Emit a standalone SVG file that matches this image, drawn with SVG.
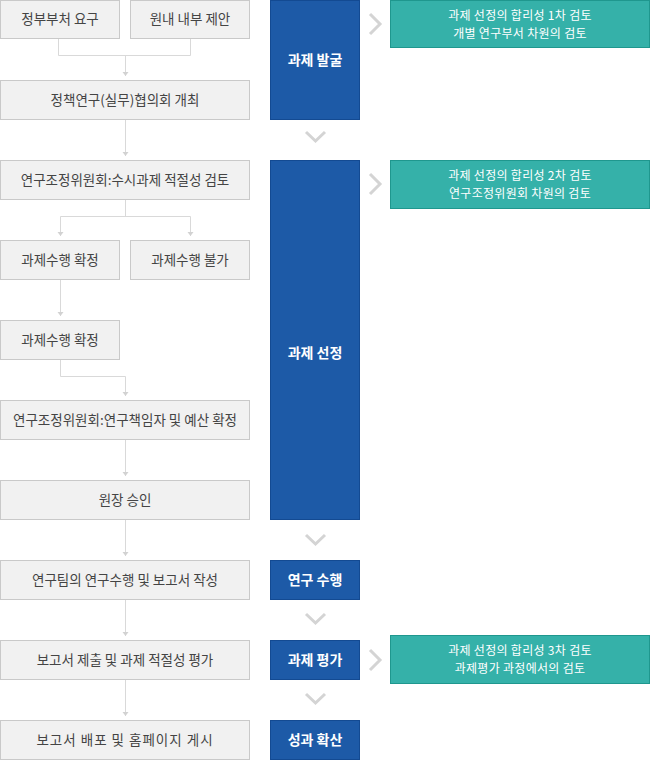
<svg xmlns="http://www.w3.org/2000/svg" width="650" height="760" viewBox="0 0 650 760">
<defs>
<style>
.g rect{fill:#f1f1f1;stroke:#c9c9c9;stroke-width:1}
.g text{font-family:"Noto Sans CJK KR","Noto Sans",sans-serif;font-size:13.5px;fill:#444;text-anchor:middle}
.b rect{fill:#1d5aa7;stroke:#134a92;stroke-width:1}
.b text{font-family:"Noto Sans CJK KR","Noto Sans",sans-serif;font-size:14px;font-weight:bold;fill:#fff;text-anchor:middle}
.t rect{fill:#35b1a9;stroke:#1f978e;stroke-width:1}
.t text{font-family:"Noto Sans CJK KR","Noto Sans",sans-serif;font-size:12px;letter-spacing:0.3px;fill:#fff;text-anchor:middle}
.c{fill:none;stroke:#d9d9d9;stroke-width:1}
.a{fill:#d2d2d2}
.chev{fill:none;stroke:#d4d4d4;stroke-width:3}
</style>
</defs>
<rect width="650" height="760" fill="#fff"/>

<g id="connectors">
<path class="c" d="M58.5,39 V55.5 H190.5 V39"/>
<path class="c" d="M125.5,55.5 V76"/>
<path class="a" d="M122.5,72 L128.5,72 L125.5,76 Z"/>
<path class="c" d="M125.5,120 V156"/>
<path class="a" d="M122.5,152 L128.5,152 L125.5,156 Z"/>
<path class="c" d="M125.5,200 V216.5 M60.5,236 V216.5 H190.5 V236"/>
<path class="a" d="M57.5,232 L63.5,232 L60.5,236 Z"/>
<path class="a" d="M187.5,232 L193.5,232 L190.5,236 Z"/>
<path class="c" d="M60.5,280 V316"/>
<path class="a" d="M57.5,312 L63.5,312 L60.5,316 Z"/>
<path class="c" d="M60.5,360 V376.5 H125.5 V396"/>
<path class="a" d="M122.5,392 L128.5,392 L125.5,396 Z"/>
<path class="c" d="M125.5,440 V476"/>
<path class="a" d="M122.5,472 L128.5,472 L125.5,476 Z"/>
<path class="c" d="M125.5,520 V556"/>
<path class="a" d="M122.5,552 L128.5,552 L125.5,556 Z"/>
<path class="c" d="M125.5,600 V636"/>
<path class="a" d="M122.5,632 L128.5,632 L125.5,636 Z"/>
<path class="c" d="M125.5,680 V716"/>
<path class="a" d="M122.5,712 L128.5,712 L125.5,716 Z"/>
<polyline class="chev" points="306,132 315.5,141 325,132"/>
<polyline class="chev" points="306,535 315.5,544 325,535"/>
<polyline class="chev" points="306,614 315.5,623 325,614"/>
<polyline class="chev" points="306,694 315.5,703 325,694"/>
<polyline class="chev" points="370,14 380,24 370,34"/>
<polyline class="chev" points="370,174 380,184 370,194"/>
<polyline class="chev" points="370,650 380,660 370,670"/>
</g>

<g id="n1" class="g"><rect x="0.5" y="0.5" width="119" height="38"/><text x="60" y="24">정부부처 요구</text></g>
<g id="n2" class="g"><rect x="130.5" y="0.5" width="119" height="38"/><text x="190" y="24">원내 내부 제안</text></g>
<g id="n3" class="g"><rect x="0.5" y="80.5" width="249" height="39"/><text x="125" y="105">정책연구(실무)협의회 개최</text></g>
<g id="n4" class="g"><rect x="0.5" y="160.5" width="249" height="39"/><text x="125" y="185">연구조정위원회:수시과제 적절성 검토</text></g>
<g id="n5" class="g"><rect x="0.5" y="240.5" width="119" height="39"/><text x="60" y="265">과제수행 확정</text></g>
<g id="n6" class="g"><rect x="130.5" y="240.5" width="119" height="39"/><text x="190" y="265">과제수행 불가</text></g>
<g id="n7" class="g"><rect x="0.5" y="320.5" width="119" height="39"/><text x="60" y="345">과제수행 확정</text></g>
<g id="n8" class="g"><rect x="0.5" y="400.5" width="249" height="39"/><text x="125" y="425">연구조정위원회:연구책임자 및 예산 확정</text></g>
<g id="n9" class="g"><rect x="0.5" y="480.5" width="249" height="39"/><text x="125" y="505">원장 승인</text></g>
<g id="n10" class="g"><rect x="0.5" y="560.5" width="249" height="39"/><text x="125" y="585">연구팀의 연구수행 및 보고서 작성</text></g>
<g id="n11" class="g"><rect x="0.5" y="640.5" width="249" height="39"/><text x="125" y="665">보고서 제출 및 과제 적절성 평가</text></g>
<g id="n12" class="g"><rect x="0.5" y="720.5" width="249" height="39"/><text x="125" y="745" letter-spacing="1">보고서 배포 및 홈페이지 게시</text></g>

<g id="s1" class="b"><rect x="270.5" y="0.5" width="89" height="119"/><text x="315" y="65">과제 발굴</text></g>
<g id="s2" class="b"><rect x="270.5" y="160.5" width="89" height="359"/><text x="315" y="358">과제 선정</text></g>
<g id="s3" class="b"><rect x="270.5" y="560.5" width="89" height="39"/><text x="315" y="585">연구 수행</text></g>
<g id="s4" class="b"><rect x="270.5" y="640.5" width="89" height="39"/><text x="315" y="665">과제 평가</text></g>
<g id="s5" class="b"><rect x="270.5" y="720.5" width="89" height="39"/><text x="315" y="745">성과 확산</text></g>

<g id="r1" class="t"><rect x="390.5" y="0.5" width="259" height="47"/><text x="520" y="20">과제 선정의 합리성 1차 검토</text><text x="520" y="38">개별 연구부서 차원의 검토</text></g>
<g id="r2" class="t"><rect x="390.5" y="160.5" width="259" height="48"/><text x="520" y="180">과제 선정의 합리성 2차 검토</text><text x="520" y="198">연구조정위원회 차원의 검토</text></g>
<g id="r3" class="t"><rect x="390.5" y="635.5" width="259" height="48"/><text x="520" y="655">과제 선정의 합리성 3차 검토</text><text x="520" y="673">과제평가 과정에서의 검토</text></g>
</svg>
